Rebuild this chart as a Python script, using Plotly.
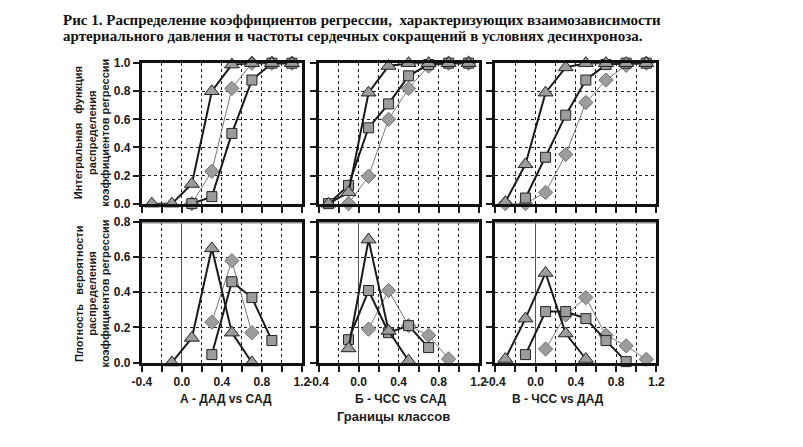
import plotly.graph_objects as go
from plotly.subplots import make_subplots

# class boundaries (x) shared by every panel
x_bounds = [-0.3, -0.1, 0.1, 0.3, 0.5, 0.7, 0.9, 1.1]

panel_names = ["А - ДАД vs САД", "Б - ЧСС vs САД", "В - ЧСС vs ДАД"]

# integral (cumulative) distribution, top row
cum_a_tri = [0.0, 0.0, 0.14, 0.80, 0.99, 1.0, 1.0, 1.0]
cum_a_sq = [None, None, 0.0, 0.05, 0.50, 0.88, 1.0, 1.0]
cum_a_dia = [None, None, 0.0, 0.23, 0.82, 1.0, 1.0, 1.0]

cum_b_tri = [0.0, 0.08, 0.79, 0.98, 1.0, 1.0, 1.0, 1.0]
cum_b_sq = [0.0, 0.13, 0.54, 0.71, 0.91, 0.99, 1.0, 1.0]
cum_b_dia = [None, 0.0, 0.195, 0.60, 0.82, 0.98, 1.0, 1.0]

cum_c_tri = [0.01, 0.28, 0.79, 0.97, 1.0, 1.0, 1.0, 1.0]
cum_c_sq = [None, 0.04, 0.33, 0.63, 0.88, 0.99, 1.0, 1.0]
cum_c_dia = [0.0, 0.0, 0.08, 0.35, 0.72, 0.88, 0.985, 1.0]

# probability density, bottom row
den_a_tri = [None, 0.0, 0.14, 0.65, 0.17, 0.0, None, None]
den_a_sq = [None, None, None, 0.045, 0.46, 0.37, 0.125, None]
den_a_dia = [None, None, None, 0.23, 0.58, 0.17, None, None]

den_b_tri = [None, 0.08, 0.70, 0.18, 0.01, None, None, None]
den_b_sq = [None, 0.13, 0.41, 0.17, 0.21, 0.085, None, None]
den_b_dia = [None, None, 0.19, 0.41, 0.21, 0.155, 0.02, None]

den_c_tri = [0.02, 0.25, 0.51, 0.165, 0.02, None, None, None]
den_c_sq = [None, 0.045, 0.29, 0.29, 0.25, 0.125, 0.005, None]
den_c_dia = [None, None, 0.077, 0.27, 0.37, 0.155, 0.095, 0.018]

x_tickvals = [-0.4, -0.2, 0.0, 0.2, 0.4, 0.6, 0.8, 1.0, 1.2]
x_ticktext = ["-0.4", "", "0.0", "", "0.4", "", "0.8", "", "1.2"]

title_lines = [
    "Рис 1. Распределение коэффициентов регрессии,  характеризующих взаимозависимости",
    "артериального давления и частоты сердечных сокращений в условиях десинхроноза.",
]
top_ylabel = ["Интегральная   функция", "распределения", "коэффициентов регрессии"]
bottom_ylabel = ["Плотность   вероятности", "распределения", "коэффициентов регрессии"]

top_rows = [(cum_a_dia, cum_a_sq, cum_a_tri),
            (cum_b_dia, cum_b_sq, cum_b_tri),
            (cum_c_dia, cum_c_sq, cum_c_tri)]
bottom_rows = [(den_a_dia, den_a_sq, den_a_tri),
               (den_b_dia, den_b_sq, den_b_tri),
               (den_c_dia, den_c_sq, den_c_tri)]

W, H = 803, 447
# panel boxes in pixels (left, right) and (top, bottom)
col_px = [(135, 299), (316, 480), (497, 662)]
row_px = [(58, 203), (222, 367)]

fig = make_subplots(rows=2, cols=3)

fill = "#9c9c9c"


def add_series(row, col, dia, sq, tri):
    fig.add_trace(go.Scatter(
        x=x_bounds, y=dia, mode="lines+markers", cliponaxis=False,
        line=dict(color="#777777", width=1),
        marker=dict(symbol="diamond", size=11, color=fill,
                    line=dict(color="#707070", width=1))),
        row=row, col=col)
    fig.add_trace(go.Scatter(
        x=x_bounds, y=sq, mode="lines+markers", cliponaxis=False,
        line=dict(color="#1a1a1a", width=2),
        marker=dict(symbol="square", size=10, color=fill,
                    line=dict(color="#222222", width=1))),
        row=row, col=col)
    fig.add_trace(go.Scatter(
        x=x_bounds, y=tri, mode="lines+markers", cliponaxis=False,
        line=dict(color="#1a1a1a", width=2),
        marker=dict(symbol="triangle-up", size=13, color=fill,
                    line=dict(color="#222222", width=1))),
        row=row, col=col)


for c in range(3):
    add_series(1, c + 1, *top_rows[c])
    add_series(2, c + 1, *bottom_rows[c])

tick_font = dict(family="Liberation Sans", size=12, color="#1a1a1a", weight="bold")

for r in range(2):
    for c in range(3):
        idx = r * 3 + c + 1
        xa = "xaxis" if idx == 1 else f"xaxis{idx}"
        ya = "yaxis" if idx == 1 else f"yaxis{idx}"
        left, right = col_px[c]
        top, bottom = row_px[r]
        fig.layout[xa].update(
            domain=[left / W, right / W], range=[-0.4, 1.2],
            tickmode="array", tickvals=x_tickvals, ticktext=x_ticktext,
            showticklabels=(r == 1), ticks="outside", ticklen=6, tickwidth=2,
            tickcolor="#1a1a1a", tickfont=tick_font,
            showgrid=True, gridcolor="#1a1a1a", griddash="3px,3px", gridwidth=1,
            zeroline=(r == 1), zerolinecolor="#555555", zerolinewidth=1,
            showline=True, linecolor="#111111", linewidth=3, mirror=True,
        )
        ymax = 1.0 if r == 0 else 0.8
        fig.layout[ya].update(
            domain=[(H - bottom) / H, (H - top) / H], range=[0, ymax],
            tickmode="linear", tick0=0, dtick=0.2, tickformat=".1f",
            showticklabels=(c == 0), ticks="outside", ticklen=6, tickwidth=2,
            tickcolor="#1a1a1a", tickfont=tick_font,
            showgrid=True, gridcolor="#1a1a1a", griddash="3px,3px", gridwidth=1,
            zeroline=False,
            showline=True, linecolor="#111111", linewidth=3, mirror=True,
        )
        if r == 1:
            # grey top border on the density panels
            fig.add_shape(type="line", x0=-0.4, x1=1.2, y0=0.8, y1=0.8,
                          xref=f"x{idx}", yref=f"y{idx}",
                          line=dict(color="#8a8a8a", width=3))

annotations = []
title_font = dict(family="Liberation Serif", size=15, color="#111111", weight="bold")
for line, py in zip(title_lines, [13, 30]):
    annotations.append(dict(
        x=52 / W, y=1 - py / H, xref="paper", yref="paper",
        xanchor="left", yanchor="middle", showarrow=False,
        font=title_font, text=line))

label_font = dict(family="Liberation Sans", size=11, color="#1a1a1a", weight="bold")
for lines, py in [(top_ylabel, 130), (bottom_ylabel, 296)]:
    for line, px in zip(lines, [70, 84, 97]):
        annotations.append(dict(
            x=px / W, y=1 - py / H, xref="paper", yref="paper",
            xanchor="center", yanchor="middle", textangle=-90,
            showarrow=False, font=label_font, text=line))

name_x = [221, 400, 561]
for name, px in zip(panel_names, name_x):
    annotations.append(dict(
        x=px / W, y=1 - 405 / H, xref="paper", yref="paper",
        xanchor="center", yanchor="middle",
        showarrow=False, font=dict(label_font, size=12), text=name))

annotations.append(dict(
    x=393 / W, y=1 - 423 / H, xref="paper", yref="paper",
    xanchor="center", yanchor="middle", showarrow=False,
    font=dict(family="Liberation Sans", size=13, color="#1a1a1a", weight="bold"),
    text="Границы классов"))

fig.update_layout(
    width=W, height=H, showlegend=False,
    margin=dict(l=0, r=0, t=0, b=0),
    paper_bgcolor="white", plot_bgcolor="white",
    annotations=annotations,
)

# drop the default 8px page margin so the figure sits at the window corner
fig.write_html("out.html", config={"displayModeBar": False},
               post_script="document.body.style.margin='0';document.body.style.overflow='hidden';")
